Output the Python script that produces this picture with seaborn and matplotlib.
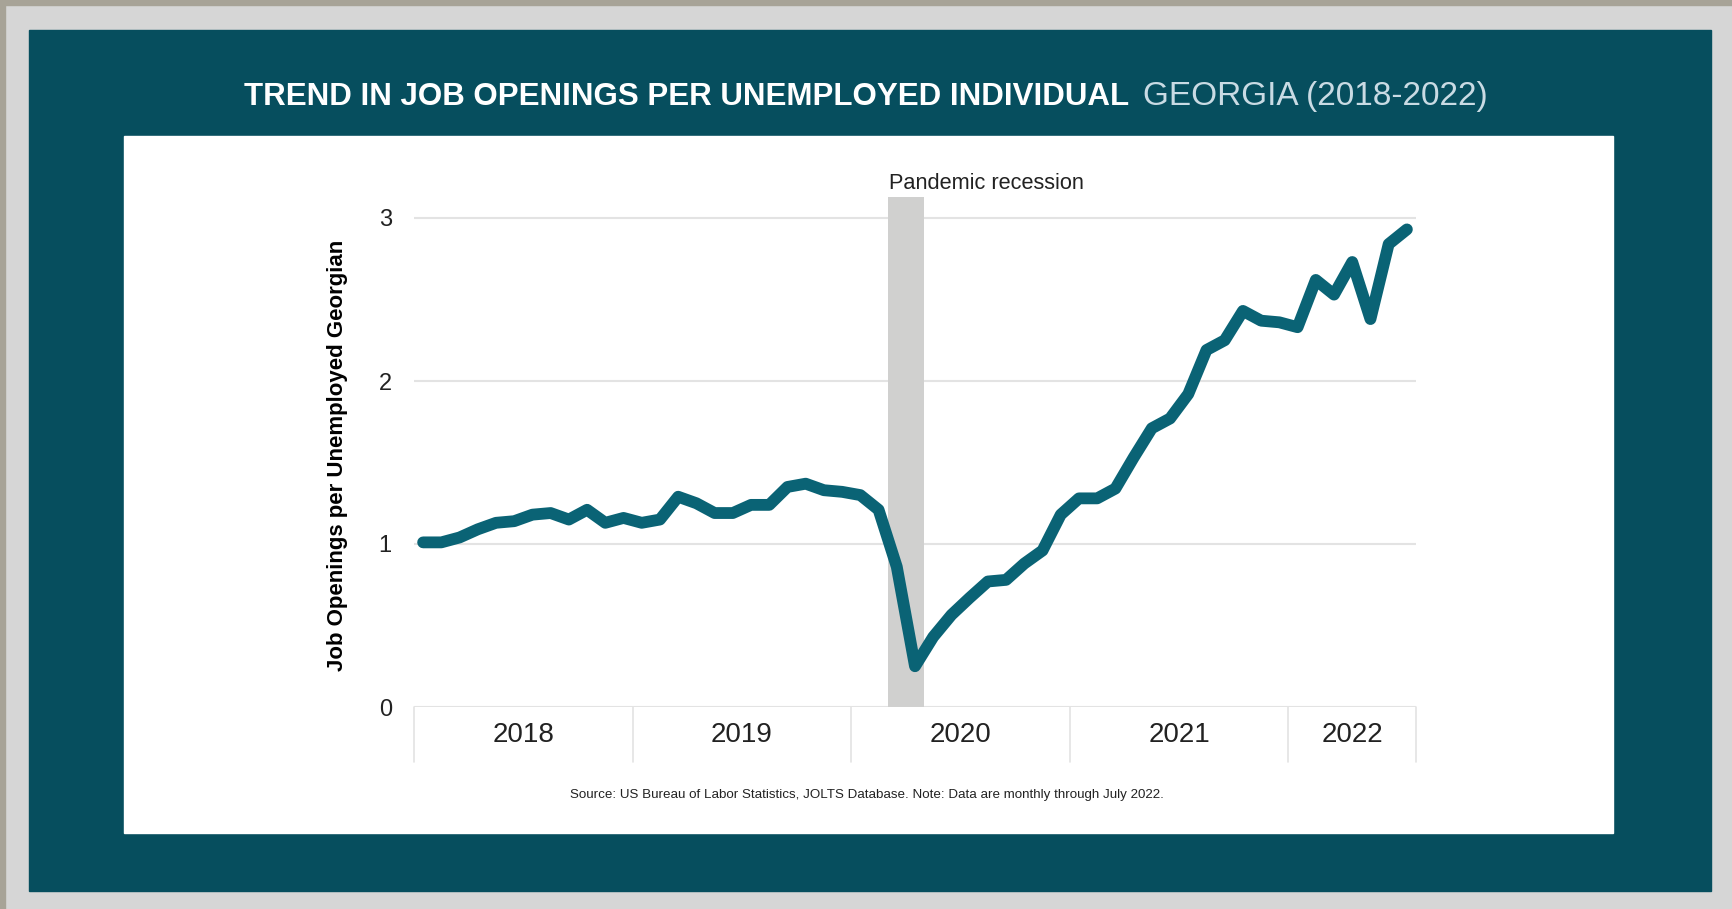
import numpy as np
import pandas as pd
import seaborn as sns
import matplotlib.pyplot as plt
from matplotlib.patches import Rectangle

# monthly values, Jan 2018 - Jul 2022
years = [2018, 2019, 2020, 2021, 2022]
months_per_year = [12, 12, 12, 12, 7]
ratio = [1.01, 1.01, 1.04, 1.09, 1.13, 1.14, 1.18, 1.19, 1.15, 1.21, 1.13, 1.16,
         1.13, 1.15, 1.29, 1.25, 1.19, 1.19, 1.24, 1.24, 1.35, 1.37, 1.33, 1.32,
         1.30, 1.21, 0.86, 0.25, 0.43, 0.565, 0.67, 0.77, 0.78, 0.88, 0.96, 1.18,
         1.28, 1.28, 1.34, 1.53, 1.71, 1.77, 1.92, 2.19, 2.25, 2.43, 2.37, 2.36,
         2.33, 2.62, 2.53, 2.73, 2.38, 2.84, 2.93]
recession = (26, 28)  # Mar-Apr 2020 slots
yticks = [0, 1, 2, 3]

df = pd.DataFrame({"slot": np.arange(len(ratio)) + 0.5, "ratio": ratio})

sns.set_theme(style="white")
plt.rcParams["font.family"] = ["Liberation Sans", "DejaVu Sans"]

W, H = 1732, 909
teal = "#064e5e"
line_c = "#0a6375"

fig = plt.figure(figsize=(W / 100, H / 100), dpi=100, facecolor="#d6d6d6")

def box(x0, y0, x1, y1, color):
    fig.patches.append(Rectangle((x0 / W, 1 - y1 / H), (x1 - x0) / W, (y1 - y0) / H,
                                 transform=fig.transFigure, color=color, zorder=-5))

box(0, 0, W, 5, "#a7a397")
box(0, 0, 5, H, "#a7a397")
box(29, 30, 1711, 891, teal)
box(124, 136, 1613, 833, "white")

ymax = 3.35
ax = fig.add_axes([414 / W, (H - 707) / H, (1416 - 414) / W, ymax * 163 / H])
ax.set_facecolor("none")

ax.axvspan(*recession, ymax=3.13 / ymax, color="#d0d0cf", lw=0, zorder=1)
sns.lineplot(data=df, x="slot", y="ratio", ax=ax, color=line_c, lw=8.5,
             solid_capstyle="round", solid_joinstyle="round", zorder=3)
ax.text(recession[0] + 0.05, 3.18, "Pandemic recession", fontsize=15.7, color="#222222",
        ha="left", va="baseline")

ax.set_xlim(0, sum(months_per_year))
ax.set_ylim(0, ymax)
ax.set_yticks(yticks)
ax.set_yticklabels([str(t) for t in yticks], fontsize=17, color="#222222")
ax.tick_params(axis="y", length=0, pad=16)
ax.set_xticks([])
ax.yaxis.grid(True, color="#e3e3e3", lw=1.5)
ax.set_axisbelow(True)
ax.set(xlabel="", ylabel="")
sns.despine(ax=ax, left=True, bottom=True, top=True, right=True)

# year boxes under the axis
trans = ax.get_xaxis_transform()
edges = np.concatenate([[0], np.cumsum(months_per_year)])
box_h = 55 / (ymax * 163)
for e in edges:
    ax.plot([e, e], [0, -box_h], transform=trans, color="#e3e3e3", lw=1.2, clip_on=False)
for i, yr in enumerate(years):
    ax.text((edges[i] + edges[i + 1]) / 2, -28 / (ymax * 163), str(yr), transform=trans,
            ha="center", va="center", fontsize=20, color="#222222")

fig.text(337 / W, 1 - 455 / H, "Job Openings per Unemployed Georgian", rotation=90,
         ha="center", va="center", fontsize=16, fontweight="bold", color="black")

fig.text(1129 / W, 1 - 97 / H, "TREND IN JOB OPENINGS PER UNEMPLOYED INDIVIDUAL",
         ha="right", va="center", fontsize=22.5, fontweight="bold", color="white")
fig.text(1143 / W, 1 - 97 / H, "GEORGIA (2018-2022)", ha="left", va="center",
         fontsize=24, color="#c9dbe4")

fig.text(867 / W, 1 - 795 / H,
         "Source: US Bureau of Labor Statistics, JOLTS Database. Note: Data are monthly through July 2022.",
         ha="center", va="center", fontsize=9.6, color="#222222")

fig.savefig("out.png", dpi=100, facecolor=fig.get_facecolor())
